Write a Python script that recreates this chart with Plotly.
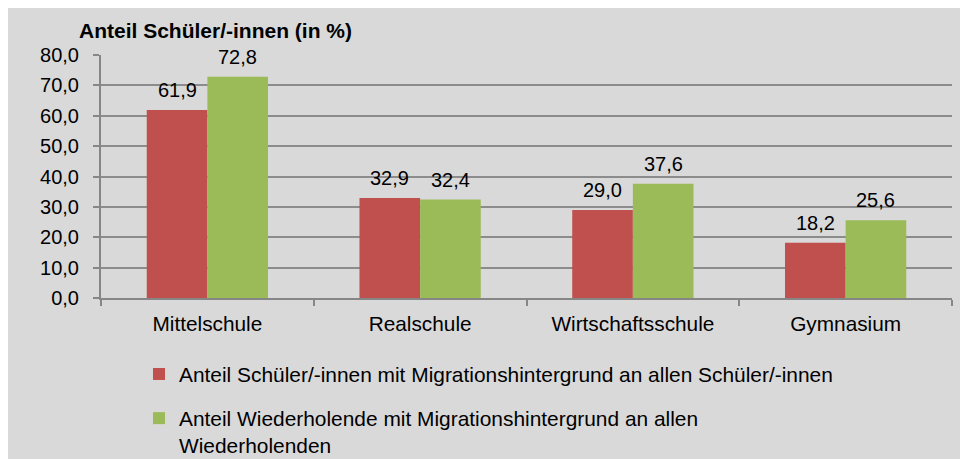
import plotly.graph_objects as go

categories = ["Mittelschule", "Realschule", "Wirtschaftsschule", "Gymnasium"]
schueler = [61.9, 32.9, 29.0, 18.2]
wiederholende = [72.8, 32.4, 37.6, 25.6]
series_names = [
    "Anteil Schüler/-innen mit Migrationshintergrund an allen Schüler/-innen",
    "Anteil Wiederholende mit Migrationshintergrund an allen<br>Wiederholenden",
]
y_ticks = [0, 10, 20, 30, 40, 50, 60, 70, 80]
y_title = "Anteil Schüler/-innen (in %)"

RED = "#C0504D"
GREEN = "#9BBB59"
BG = "#D9D9D9"
FONT = "Liberation Sans, Arial, sans-serif"

OFF = 8  # page body margin
W, H = 960, 451
L, R, T, B = 93, 16, 46.5, 161
PW, PH = W - L - R, H - T - B

def px_x(x):
    return (x - OFF - L) / PW

def px_y(y):
    return (H - B - (y - OFF)) / PH

fig = go.Figure()
fig.add_trace(go.Bar(x=categories, y=schueler, name=series_names[0],
                     marker=dict(color=RED, line=dict(width=0)), legendgroup="a"))
fig.add_trace(go.Bar(x=categories, y=wiederholende, name=series_names[1],
                     marker=dict(color=GREEN, line=dict(width=0)), legendgroup="b"))

annotations = []
for vals, shift in ((schueler, -30.3), (wiederholende, 30.3)):
    for c, v in zip(categories, vals):
        annotations.append(dict(
            x=c, y=v, xref="x", yref="y", text=f"{v:.1f}".replace(".", ","),
            showarrow=False, xshift=shift, yshift=7, yanchor="bottom",
            font=dict(family=FONT, size=20, color="#000000")))

annotations.append(dict(
    x=px_x(77), y=px_y(30), xref="paper", yref="paper",
    text=f"<b>{y_title}</b>", showarrow=False, xanchor="left", yanchor="middle",
    font=dict(family=FONT, size=21, color="#000000")))

fig.update_layout(
    width=W, height=H,
    margin=dict(l=L, r=R, t=T, b=B, autoexpand=False),
    paper_bgcolor=BG,
    plot_bgcolor="rgba(0,0,0,0)",
    separators=",.",
    barmode="group", bargap=0.43, bargroupgap=0,
    font=dict(family=FONT, size=20, color="#000000"),
    annotations=annotations,
    showlegend=True,
    legend=dict(
        x=px_x(139), y=px_y(354), xanchor="left", yanchor="top",
        bgcolor="rgba(0,0,0,0)", font=dict(family=FONT, size=20.9, color="#000000"),
        valign="top", tracegroupgap=14, itemsizing="constant", traceorder="grouped"),
    xaxis=dict(
        showline=True, linecolor="#868686", linewidth=2,
        ticks="outside", tickson="boundaries", ticklen=6, tickcolor="#868686", tickwidth=1.5,
        ticklabelstandoff=6,
        tickfont=dict(family=FONT, size=20.8, color="#000000"),
        showgrid=False),
    yaxis=dict(
        range=[0, 80], tickvals=y_ticks, tickformat=".1f",
        showline=True, linecolor="#868686", linewidth=2,
        ticks="outside", ticklen=6, tickcolor="#868686", tickwidth=1.5,
        ticklabelstandoff=10,
        tickfont=dict(family=FONT, size=20, color="#000000"),
        showgrid=True, gridcolor="#8C8C8C", gridwidth=1.5,
        zeroline=False),
)

fig.write_html("out.html")
